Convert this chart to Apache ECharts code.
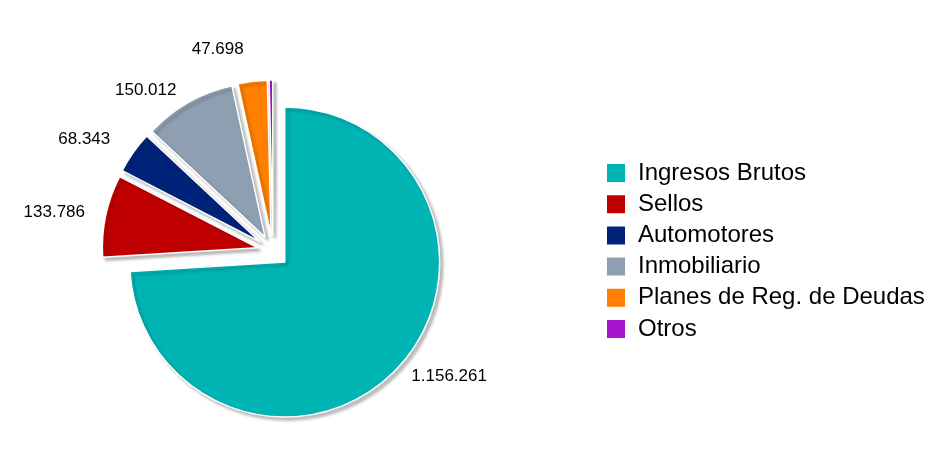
<!DOCTYPE html>
<html>
<head>
<meta charset="utf-8">
<script src="https://cdn.jsdelivr.net/npm/echarts@6/dist/echarts.min.js"></script>
<style>
  html, body { margin: 0; padding: 0; background: #fff; }
  #main { width: 943px; height: 467px; }
</style>
</head>
<body>
<div id="main"></div>
<script>
  // recaudacion por impuesto
  var categorias = ['Ingresos Brutos', 'Sellos', 'Automotores', 'Inmobiliario', 'Planes de Reg. de Deudas', 'Otros'];
  var valores = [1156261, 133786, 68343, 150012, 47698, 6000];
  var colores = ['#00B4B4', '#C00000', '#00237A', '#8E9FB1', '#FF8000', '#A515CB'];
  var conEtiqueta = [true, true, true, true, true, false];

  function fmt(n) {
    return String(n).replace(/\B(?=(\d{3})+(?!\d))/g, '.');
  }

  // largo de la guia (invisible) de cada etiqueta
  var guia = [12, 16, 22, 14, 32, 14];

  // todas las porciones separadas (explosion de toda la serie)
  var datos = categorias.map(function (c, i) {
    return {
      name: c,
      value: valores[i],
      selected: true,
      itemStyle: { color: colores[i] },
      label: { show: conEtiqueta[i] },
      labelLine: { show: false, length: guia[i], length2: 0 }
    };
  });

  var myChart = echarts.init(document.getElementById('main'));
  var option = {
    animation: false,
    legend: {
      orient: 'vertical',
      left: 600,
      top: 156,
      itemWidth: 20,
      itemHeight: 20,
      itemGap: 7.2,
      icon: 'rect',
      selectedMode: false,
      textStyle: {
        fontFamily: 'Liberation Sans, Arial, sans-serif',
        fontSize: 24,
        color: '#000',
        padding: [0, 0, 0, 7]
      },
      data: categorias
    },
    series: [
      {
        type: 'pie',
        center: [273, 251],
        radius: 155,
        startAngle: 90,
        clockwise: true,
        selectedMode: 'multiple',
        selectedOffset: 16,
        avoidLabelOverlap: false,
        itemStyle: {
          borderColor: '#fff',
          borderWidth: 1.5,
          shadowColor: 'rgba(0,0,0,0.25)',
          shadowBlur: 3,
          shadowOffsetX: 3,
          shadowOffsetY: 3
        },
        label: {
          position: 'outside',
          fontFamily: 'Liberation Sans, Arial, sans-serif',
          fontSize: 17,
          color: '#000',
          formatter: function (p) { return fmt(p.value); }
        },
        labelLine: { show: false, length: 14, length2: 0 },
        emphasis: { disabled: true },
        data: datos
      }
    ]
  };
  myChart.setOption(option);
</script>
</body>
</html>
